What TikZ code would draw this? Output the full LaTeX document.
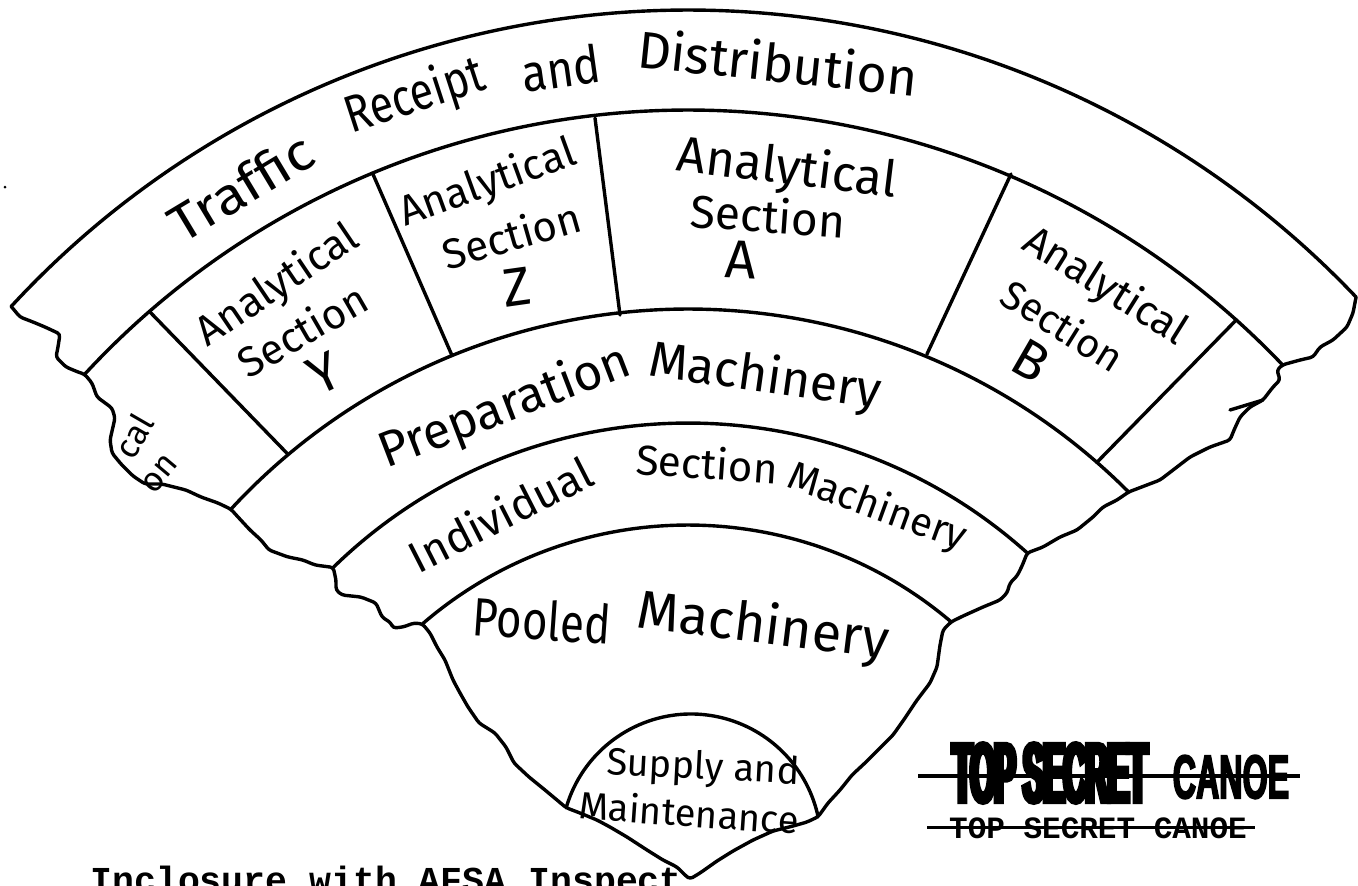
\documentclass[tikz,border=0pt]{standalone}
\usepackage{fontspec}
\setmainfont{Fira Sans}
\newfontfamily\hand{Fira Sans}
\newfontfamily\typer{Liberation Mono}
\newfontfamily\blotfont[FakeStretch=0.38,FakeBold=9]{Liberation Sans}
\newfontfamily\condfont[FakeStretch=0.52,FakeBold=2.5]{Liberation Sans}
\usetikzlibrary{calc}
\newcommand{\fs}[1]{\fontsize{#1}{#1}\selectfont}
\newcommand{\hsq}[2]{\scalebox{#1}[1]{#2}}
\begin{document}
\begin{tikzpicture}[x=0.5pt,y=-0.5pt,
  edge/.style={line width=1.7pt, line cap=round, line join=round},
  word/.style={font=\hand, inner sep=0pt},
]
\useasboundingbox (0,0) rectangle (1358,885);
\clip (0,0) rectangle (1358,885);
\fill[white] (0,0) rectangle (1358,885);

\coordinate (C) at (688,931);
\coordinate (oL) at ($(C)+(-137.3:921)$);
\coordinate (oR) at ($(C)+(-43.5:921)$);
\coordinate (tL) at ($(C)+(-137.3:821)$);
\coordinate (tR) at ($(C)+(-43.6:821)$);
\coordinate (pL) at ($(C)+(-137.3:622)$);
\coordinate (pR) at ($(C)+(-44.9:622)$);
\coordinate (iL) at ($(C)+(-134.3:508)$);
\coordinate (iR) at ($(C)+(-48.1:508)$);
\coordinate (qL) at ($(C)+(-130.85:406)$);
\coordinate (qR) at ($(C)+(-49.6:406)$);
\coordinate (S) at (691,844);
\coordinate (sL) at ($(S)+(-163.8:130)$);
\coordinate (sR) at ($(S)+(-12.1:130)$);
\coordinate (tip) at (690,879);

% arcs
\draw[edge] (oL) arc[start angle=-137.3,end angle=-43.5,radius=921];
\draw[edge] (tL) arc[start angle=-137.3,end angle=-43.6,radius=821];
\draw[edge] (pL) arc[start angle=-137.3,end angle=-44.9,radius=622];
\draw[edge] (iL) arc[start angle=-134.3,end angle=-48.1,radius=508];
\draw[edge] (qL) arc[start angle=-130.85,end angle=-49.6,radius=406];
\draw[edge] (sL) arc[start angle=-163.8,end angle=-12.1,radius=130];

% dividers of the analytical band
\draw[edge] (149.4,311.4) -- (288.2,454.5);
\draw[edge] (372.5,173.1) -- (452,355.5);
\draw[edge] (595,118) -- (620,315);
\draw[edge] (1011,174) -- (927,354);
\draw[edge] (1236.3,319.9) -- (1096.9,462.3);

% torn outline
\draw[edge, rounded corners=1.5pt] (oL) -- (20,317) -- (33,322) -- (45,327) -- (60,334) -- (58,347) -- (56,357) -- (66,367) -- (78,372) -- (tL)
 -- (92,383) -- (97,397) -- (112,408) -- (115,418) -- (110,440) -- (112,453) -- (121,464) -- (133,476) -- (145,484) -- (162,484) -- (186,490) -- (201,497) -- (218,503) -- (pL)
 -- (238,517) -- (250,530) -- (261,540) -- (269,550) -- (288,557) -- (303,560) -- (315,565) -- (iL)
 -- (336,580) -- (336,590) -- (342,595) -- (361,597) -- (376,603) -- (382,617) -- (391,623) -- (393,628) -- (403,627) -- (414,623) -- (qL)
 -- (430,633) -- (437,647) -- (445,660) -- (453,680) -- (460,693) -- (468,707) -- (479,723) -- (495,733) -- (506,747) -- (514,763) -- (529,777) -- (545,790) -- (557,800) -- (sL)
 -- (580,813) -- (597,820) -- (610,827) -- (627,837) -- (647,850) -- (663,860) -- (677,867) -- (686,876) -- (tip)
 -- (700,873) -- (717,861) -- (733,851) -- (753,840) -- (773,831) -- (793,826) -- (807,822) -- (sR)
 -- (828,803) -- (840,790) -- (852,775) -- (866,762) -- (880,748) -- (893,735) -- (905,718) -- (917,700) -- (930,683) -- (937,667) -- (940,645) -- (943,630) -- (qR)
 -- (963,616) -- (983,607) -- (1000,600) -- (1007,593) -- (1010,583) -- (1017,576) -- (1022,566) -- (iR)
 -- (1043,547) -- (1060,537) -- (1077,530) -- (1093,517) -- (1103,507) -- (1117,500) -- (pR)
 -- (1160,480) -- (1190,457) -- (1210,447) -- (1230,440) -- (1234,430) -- (1240,417) -- (1250,407) -- (1263,400) -- (1273,387) -- (1280,380) -- (1277,370) -- (tR)
 -- (1300,360) -- (1313,357) -- (1320,347) -- (1333,340) -- (1347,327) -- (1353,313) -- (oR);
\draw[edge] (1230,410) -- (1263,400);
\fill (5,187) circle[radius=1.5];

% Traffic band
\node[word, rotate=31] (traffic) at (241,187) {\fs{26}\hsq{1.1}{Traffic}};
\node[word, rotate=18] (receipt) at (415,97) {\fs{26}\hsq{0.82}{Receipt}};
\node[word, rotate=8] (and) at (561,68) {\fs{26}\hsq{0.88}{and}};
\node[word, rotate=-6] (distrib) at (778,62) {\fs{26}Distribution};

% analytical sections
\node[word, rotate=60] (lcal) at (134,436) {\fs{17}cal};
\node[word, rotate=50] (lon) at (160,474) {\fs{17}on};
\node[word, rotate=34] (yA) at (278,286) {\fs{21}Analytical};
\node[word, rotate=30] (yS) at (302,330) {\fs{21}Section};
\node[word, rotate=25] (yY) at (324,373) {\fs{27}Y};
\node[word, rotate=20] (zA) at (488,184) {\fs{21}Analytical};
\node[word, rotate=16] (zS) at (511,235) {\fs{21}Section};
\node[word, rotate=8] (zZ) at (517,287) {\fs{27}Z};
\node[word, rotate=-7] (aA) at (787,170) {\fs{25}Analytical};
\node[word, rotate=-4] (aS) at (768,215) {\fs{23}Section};
\node[word, rotate=-3] (aX) at (741,260) {\fs{27}A};
\node[word, rotate=-32] (bA) at (1105,287) {\fs{21}Analytical};
\node[word, rotate=-32] (bS) at (1063,325) {\fs{20}Section};
\node[word, rotate=-30] (bB) at (1031,361) {\fs{27}B};

% machinery bands
\node[word, rotate=21] (prep) at (505,408) {\fs{25}Preparation};
\node[word, rotate=-8] (prepM) at (765,378) {\fs{25}Machinery};
\node[word, rotate=27] (indI) at (500,514) {\fs{22}Individual};
\node[word, rotate=-4] (indS) at (707,463) {\fs{21}Section};
\node[word, rotate=-20] (indM) at (877,508) {\fs{20}Machinery};
\node[word, rotate=-4] (pooled) at (542,620) {\fs{27}\hsq{0.81}{Pooled}};
\node[word, rotate=-7] (poolM) at (763,628) {\fs{27}Machinery};
\node[word, rotate=-3] (supply) at (703,769) {\fs{19}Supply and};
\node[word, rotate=-4] (maint) at (689,812) {\fs{19}Maintenance};

% stamp and typed line
\node[inner sep=0] (blot) at (1050,773) {\blotfont\fs{40}TOP SECRET};
\node[inner sep=0] (canoe) at (1231,777) {\condfont\bfseries\fs{31}CANOE};
\draw[line width=2pt] (918,776) -- (1300,776);
\node[inner sep=0] (stamp2) at (1098,828) {\typer\bfseries\fs{15.5}TOP SECRET CANOE};
\draw[line width=1.5pt] (927,827) -- (1255,827);
\node[inner sep=0, anchor=base west] (incl) at (90,892) {\typer\bfseries\fs{18.25}Inclosure with AFSA Inspect};
\end{tikzpicture}
\end{document}
